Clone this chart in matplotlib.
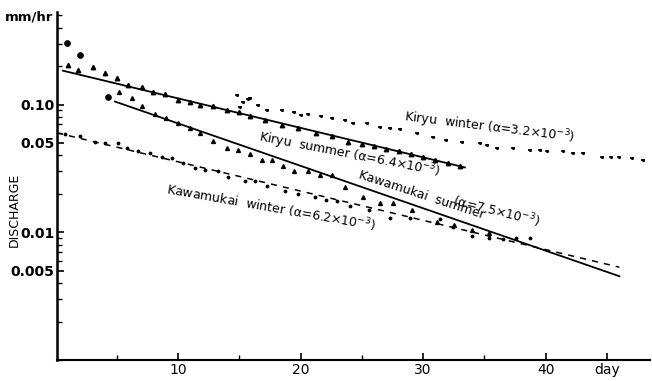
import matplotlib
matplotlib.use("Agg")
import matplotlib.pyplot as plt
from matplotlib.ticker import FixedLocator, FixedFormatter, NullFormatter

# ---------------- data (days, discharge mm/hr) ----------------
kiryu_summer_days = [1.04, 1.85, 3.07, 4.05, 5.03, 5.93, 7.07, 7.96, 8.94, 10.0,
                     11.0, 11.8, 12.85, 14.0, 15.0, 15.9, 17.1, 18.5, 19.8, 21.3,
                     22.6, 23.9, 25.0, 26.0, 27.0, 28.0, 29.0, 30.0, 31.0, 32.0, 33.0]
kiryu_summer_vals = [0.205, 0.188, 0.195, 0.178, 0.160, 0.141, 0.136, 0.126, 0.120, 0.109,
                     0.105, 0.100, 0.097, 0.090, 0.087, 0.082, 0.076, 0.069, 0.066, 0.060,
                     0.057, 0.051, 0.049, 0.047, 0.045, 0.043, 0.041, 0.039, 0.037, 0.035, 0.033]

kiryu_winter_days = [14.8, 15.3, 15.05, 15.7, 15.9, 16.5, 17.3, 18.5, 19.5, 20.0, 20.6, 21.7,
                     22.6, 23.6, 24.3, 25.4, 26.5, 27.3, 28.1, 29.5, 30.8, 31.9, 33.2,
                     34.6, 35.2, 36.0, 37.3, 38.7, 39.5, 40.1, 41.4, 42.2, 43.0, 44.6,
                     45.3, 46.0, 47.0, 47.9]
kiryu_winter_vals = [0.118, 0.104, 0.095, 0.111, 0.112, 0.100, 0.091, 0.091, 0.087, 0.083, 0.084, 0.081,
                     0.079, 0.076, 0.072, 0.072, 0.067, 0.066, 0.064, 0.060, 0.056, 0.053, 0.051,
                     0.050, 0.048, 0.046, 0.046, 0.044, 0.044, 0.043, 0.043, 0.042, 0.042, 0.039,
                     0.039, 0.0385, 0.038, 0.037]

kawa_summer_peak_days = [0.95, 2.01, 4.3]
kawa_summer_peak_vals = [0.305, 0.246, 0.115]
kawa_summer_days = [5.19, 6.25, 7.07, 8.13, 9.02, 10.0, 10.98, 11.8, 12.85, 14.0,
                    14.9, 15.87, 16.85, 17.7, 18.6, 19.5, 20.6, 21.6, 22.6, 23.6, 25.1,
                    26.5, 27.5, 29.1, 31.1, 32.5, 34.0, 35.4]
kawa_summer_vals = [0.126, 0.113, 0.098, 0.085, 0.078, 0.072, 0.065, 0.060, 0.052, 0.046,
                    0.044, 0.041, 0.037, 0.037, 0.033, 0.030, 0.030, 0.028, 0.028, 0.0225, 0.019,
                    0.017, 0.017, 0.015, 0.012, 0.0115, 0.0105, 0.0098]

kawa_winter_days = [0.79, 2.01, 3.24, 4.05, 5.11, 5.84, 6.74, 7.72, 8.7, 9.51, 10.4, 11.4,
                    12.2, 13.26, 14.07, 15.5, 16.3, 17.3, 18.7, 19.8, 21.2, 22.1, 23.0,
                    24.0, 25.6, 27.3, 28.9, 31.4, 32.4, 34.0, 35.4, 36.5, 37.6, 38.7]
kawa_winter_vals = [0.059, 0.057, 0.051, 0.050, 0.050, 0.046, 0.043, 0.042, 0.039, 0.038, 0.035, 0.032,
                    0.031, 0.030, 0.027, 0.025, 0.025, 0.023, 0.021, 0.020, 0.019, 0.018, 0.0175,
                    0.016, 0.015, 0.013, 0.013, 0.0126, 0.011, 0.0093, 0.0091, 0.0088, 0.0091, 0.0090]

# fitted recession lines (end points)
kiryu_summer_fit_days = [0.63, 33.4]
kiryu_summer_fit_vals = [0.184, 0.0322]
kawa_summer_fit_days = [4.87, 46.0]
kawa_summer_fit_vals = [0.1055, 0.00453]
kawa_winter_fit_days = [0.14, 46.0]
kawa_winter_fit_vals = [0.060, 0.00533]

y_tick_vals = [0.005, 0.01, 0.05, 0.1]
y_tick_labels = ["0.005", "0.01", "0.05", "0.10"]
x_tick_vals = [10, 20, 30, 40, 45]
x_tick_labels = ["10", "20", "30", "40", "day"]
x_minor_vals = [5, 15, 25, 35]

# ---------------- figure ----------------
fig = plt.figure(figsize=(6.52, 3.81), dpi=100)
ax = fig.add_axes([0.0874, 0.055, 0.9096, 0.9135])
ax.set_yscale("log")
ax.set_xlim(0.14, 48.5)
ax.set_ylim(0.001, 0.53)

k = "black"
ax.plot(kiryu_summer_fit_days, kiryu_summer_fit_vals, color=k, lw=1.3)
ax.plot(kawa_summer_fit_days, kawa_summer_fit_vals, color=k, lw=1.3)
ax.plot(kawa_winter_fit_days, kawa_winter_fit_vals, color=k, lw=1.1, ls=(0, (4, 4)))

ax.plot(kiryu_summer_days, kiryu_summer_vals, ls="none", marker="^", ms=3.2, color=k)
ax.plot(kiryu_winter_days, kiryu_winter_vals, ls="none", marker="_", ms=3.5, mew=1.2, color=k)
ax.plot(kiryu_winter_days, kiryu_winter_vals, ls="none", marker=".", ms=2.5, color=k)
ax.plot(kawa_summer_peak_days, kawa_summer_peak_vals, ls="none", marker="o", ms=3.8, color=k)
ax.plot(kawa_summer_days, kawa_summer_vals, ls="none", marker="^", ms=2.8, color=k)
ax.plot(kawa_winter_days, kawa_winter_vals, ls="none", marker=".", ms=3.5, color=k)

# spines / ticks
for s in ("top", "right"):
    ax.spines[s].set_visible(False)
ax.spines["left"].set_linewidth(1.8)
ax.spines["bottom"].set_linewidth(1.5)

ax.yaxis.set_major_locator(FixedLocator(y_tick_vals))
ax.yaxis.set_major_formatter(FixedFormatter(y_tick_labels))
minor_y = [m * d for d in (0.001, 0.01, 0.1) for m in range(1, 10)]
minor_y = [v for v in minor_y if v not in y_tick_vals and v <= 0.5]
ax.yaxis.set_minor_locator(FixedLocator(minor_y))
ax.yaxis.set_minor_formatter(NullFormatter())
ax.xaxis.set_major_locator(FixedLocator(x_tick_vals))
ax.xaxis.set_major_formatter(FixedFormatter(x_tick_labels))
ax.xaxis.set_minor_locator(FixedLocator(x_minor_vals))

ax.tick_params(axis="both", which="major", direction="in", length=5, width=1.2,
               labelsize=10, pad=2)
ax.tick_params(axis="both", which="minor", direction="in", length=3.5, width=1.0)
for lab in ax.get_yticklabels():
    lab.set_fontweight("bold")

fig.text(0.022, 0.45, "DISCHARGE", fontsize=9, rotation=90, ha="center", va="center")
fig.text(0.008, 0.955, "mm/hr", fontsize=9.5, fontweight="bold", va="center", ha="left")

tkw = dict(fontsize=9, color=k, ha="center", va="center", rotation_mode="anchor")
ax.text(35.4, 0.066, "Kiryu  winter (α=3.2×10$^{-3}$)", rotation=-7, **tkw)
ax.text(24.0, 0.040, "Kiryu  summer (α=6.4×10$^{-3}$)", rotation=-11, **tkw)
ax.text(29.9, 0.0195, "Kawamukai  summer", rotation=-18, **tkw)
ax.text(36.0, 0.0146, "(α=7.5×10$^{-3}$)", rotation=-14, **tkw)
ax.text(17.6, 0.0157, "Kawamukai  winter (α=6.2×10$^{-3}$)", rotation=-10, **tkw)

fig.savefig("out.png", dpi=100)
